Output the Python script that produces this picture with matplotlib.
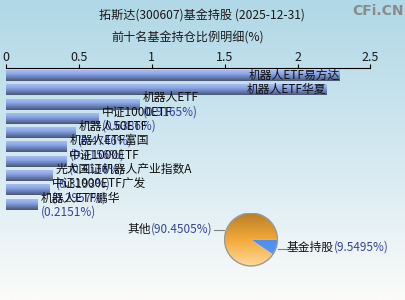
import numpy as np
import matplotlib
matplotlib.use("Agg")
import matplotlib.pyplot as plt
from matplotlib.colors import LinearSegmentedColormap

plt.rcParams['font.family'] = ['Noto Sans CJK SC', 'DejaVu Sans']

title = "拓斯达(300607)基金持股 (2025-12-31)"
subtitle = "前十名基金持仓比例明细(%)"
fund_names = ["机器人ETF易方达", "机器人ETF华夏", "机器人ETF", "中证1000ETF", "机器人50ETF",
              "机器人ETF富国", "中证1000ETF", "光大国证机器人产业指数A", "中证1000ETF广发", "机器人ETF鹏华"]
fund_values = [2.2920, 2.2000, 0.9165, 0.6386, 0.4746, 0.4156, 0.4136, 0.3193, 0.2957, 0.2151]
xticks = [0, 0.5, 1, 1.5, 2, 2.5]
xtick_labels = ["0", "0.5", "1", "1.5", "2", "2.5"]
pie_labels = ["基金持股", "其他"]
pie_values = [9.5495, 90.4505]

W, H = 405, 300
fig = plt.figure(figsize=(W / 100, H / 100), dpi=100)

# background gradient
bg = fig.add_axes([0, 0, 1, 1], zorder=-10)
bg_cmap = LinearSegmentedColormap.from_list("bg", [(0, "#b0d8e6"), (0.55, "#d6eaf1"), (1, "#fcfbfa")])
bg.imshow(np.linspace(0, 1, 256).reshape(-1, 1), aspect="auto", cmap=bg_cmap, extent=[0, 1, 0, 1], origin="upper")
bg.set_axis_off()

pct_color = "#36449a"

fig.text(202 / W, 1 - 16 / H, title, ha="center", va="center", fontsize=8.7, color="#1a1a1a")
fig.text(188 / W, 1 - 38 / H, subtitle, ha="center", va="center", fontsize=8.7, color="#1a1a1a")
fig.text(378 / W, 1 - 11 / H, "CFi.CN", ha="center", va="center", fontsize=10, color="#8a8a8a", fontweight="bold",
         family="DejaVu Sans")

# bar axes
x0, x1 = 6.3, 370.3
top_px, pitch = 68.5, 14.3
first_c = 75.7
ymin = -(first_c - top_px) / pitch
ymax = 9.5
bottom_px = first_c + ymax * pitch
ax = fig.add_axes([x0 / W, 1 - bottom_px / H, (x1 - x0) / W, (bottom_px - top_px) / H])
ax.patch.set_alpha(0)

bar_cmap = LinearSegmentedColormap.from_list("bar", [(0, "#aabde9"), (0.3, "#8eaaf0"), (0.6, "#7088c0"), (1, "#4a5570")])
grad = np.linspace(0, 1, 64).reshape(-1, 1)
h = 0.74
for i, (name, v) in enumerate(zip(fund_names, fund_values)):
    ax.imshow(grad, aspect="auto", cmap=bar_cmap, extent=[0, v, i + h / 2, i - h / 2], origin="upper",
              interpolation="bilinear", zorder=2)
    if v > 1.5:
        ax.text(v, i, name, ha="right", va="center", fontsize=8.5, color="#111111", zorder=5)
    else:
        ax.annotate(name, (v, i), xytext=(2, 0), textcoords="offset points", ha="left", va="bottom",
                    fontsize=8.5, color="#111111", zorder=5)
        ax.annotate("(%.4f%%)" % v, (v, i), xytext=(2, -1), textcoords="offset points", ha="left", va="top",
                    fontsize=8.5, color=pct_color, zorder=5)

ax.set_xlim(0, 2.5)
ax.set_ylim(ymax, ymin)
ax.xaxis.tick_top()
ax.set_xticks(xticks)
ax.set_xticklabels(xtick_labels, fontsize=9, color="#1a1a1a")
ax.tick_params(axis="x", direction="out", length=3, width=0.8, pad=0.5)
ax.set_yticks([])
for s in ["left", "right", "bottom"]:
    ax.spines[s].set_visible(False)
ax.spines["top"].set_linewidth(0.8)

# pie
cx, cy, r = 251, 239.5, 27
pax = fig.add_axes([(cx - r) / W, 1 - (cy + r) / H, 2 * r / W, 2 * r / H])
pax.set_axis_off()
wedges, _ = pax.pie(pie_values, startangle=0, counterclock=False, radius=1,
                    wedgeprops=dict(linewidth=0, facecolor="none"))
orange = LinearSegmentedColormap.from_list("or", ["#b98026", "#f2a93a", "#ffd898"])
blue = LinearSegmentedColormap.from_list("bl", ["#3f80e6", "#5c9cf8"])
for w, cm in zip(wedges, [blue, orange]):
    im = pax.imshow(np.linspace(0, 1, 64).reshape(-1, 1), aspect="auto", cmap=cm, extent=[-1, 1, -1, 1],
                    origin="upper", interpolation="bilinear")
    im.set_clip_path(w)
circ = plt.Circle((0, 0), 1, fill=False, edgecolor="#9a9a9a", linewidth=1.0)
pax.add_patch(circ)
pax.set_xlim(-1.02, 1.02)
pax.set_ylim(-1.02, 1.02)

# pie labels
fig.add_artist(plt.Line2D([214 / W, 224 / W], [1 - 230 / H, 1 - 230 / H], color="#808080", lw=0.8))
t_o = fig.text(213 / W, 1 - 229 / H, "(%.4f%%)" % pie_values[1], ha="right", va="center", fontsize=8.5,
               color=pct_color)
pax.annotate(pie_labels[1], xy=(0, 0.5), xycoords=t_o, ha="right", va="center", fontsize=8.5,
             color="#111111", annotation_clip=False)
fig.add_artist(plt.Line2D([278 / W, 287 / W], [1 - 249 / H, 1 - 249 / H], color="#808080", lw=0.8))
t_n = fig.text(287 / W, 1 - 247 / H, pie_labels[0], ha="left", va="center", fontsize=8.5, color="#111111")
pax.annotate("(%.4f%%)" % pie_values[0], xy=(1, 0.5), xycoords=t_n, ha="left", va="center",
             fontsize=8.5, color=pct_color, annotation_clip=False)

fig.savefig("out.png", dpi=100)
